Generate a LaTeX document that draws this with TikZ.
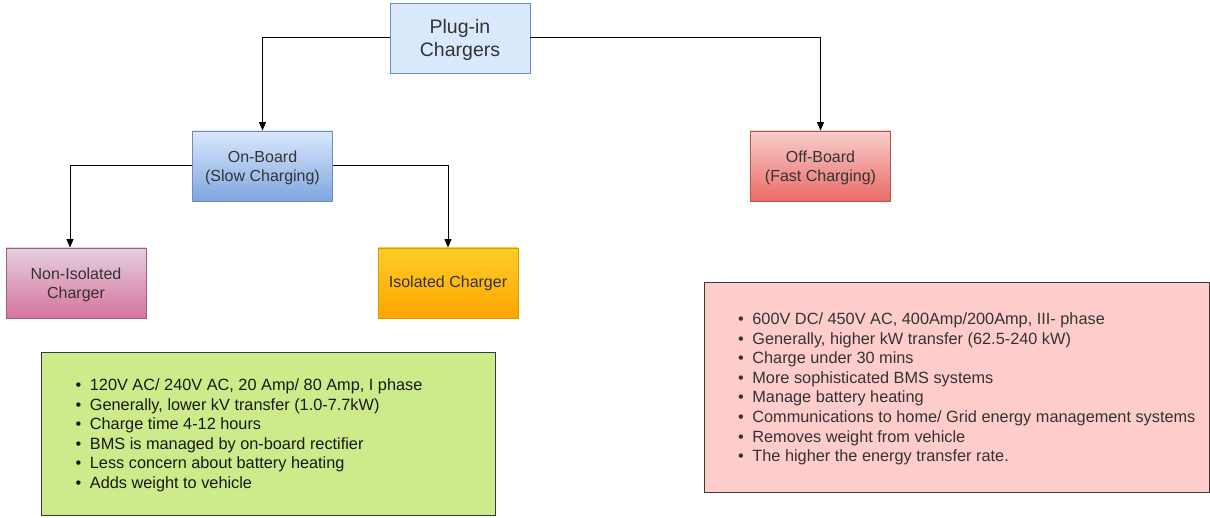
\documentclass[tikz,border=0pt]{standalone}
\usepackage{fontspec}
\setmainfont{Liberation Sans}
\usetikzlibrary{arrows.meta}
\definecolor{txt}{HTML}{333333}
\definecolor{blueF}{HTML}{DAE8FC}
\definecolor{blueD}{HTML}{7EA6E0}
\definecolor{blueB}{HTML}{6C8EBF}
\definecolor{redT}{HTML}{F8CECC}
\definecolor{redD}{HTML}{EA6B66}
\definecolor{redB}{HTML}{B85450}
\definecolor{pinkT}{HTML}{E6D0DE}
\definecolor{pinkD}{HTML}{D5739D}
\definecolor{pinkB}{HTML}{996185}
\definecolor{orT}{HTML}{FFCD28}
\definecolor{orD}{HTML}{FFA500}
\definecolor{orB}{HTML}{D79B00}
\definecolor{greenF}{HTML}{CDEB8B}
\definecolor{roseF}{HTML}{FFCCCC}
\definecolor{noteB}{HTML}{36393D}
\tikzset{
  box/.style={rectangle, draw, line width=0.9pt, minimum width=140pt, minimum height=70pt,
    inner sep=0pt, align=center, text=txt, font=\fontsize{16}{19}\selectfont},
  note/.style={rectangle, draw=noteB, line width=0.9pt, inner sep=0pt},
  link/.style={draw=black, line width=1pt, -{Triangle[length=8.5pt,width=7pt]}},
  list/.style={anchor=north west, inner sep=0pt, font=\fontsize{16.3}{19.6}\selectfont},
}
\newcommand{\itm}{\textbullet}
\begin{document}
\begin{tikzpicture}[x=1pt,y=-1pt]
\useasboundingbox (0,0) rectangle (1210,518);

% tree nodes
\node[box, draw=blueB, fill=blueF] (pl) at (460,38) {};
\node[text=txt, align=center, inner sep=0pt, font=\fontsize{19.5}{23}\selectfont] (plt) at (460,40) {Plug-in\\Chargers};
\node[box, draw=blueB, top color=blueF, bottom color=blueD] (ob) at (262.5,166) {};
\node[box, draw=redB, top color=redT, bottom color=redD] (fb) at (820.5,166) {};
\node[box, draw=pinkB, top color=pinkT, bottom color=pinkD] (ni) at (76,283) {};
\node[box, draw=orB, top color=orT, bottom color=orD] (ic) at (448,283) {Isolated Charger};
\node[box, draw=none, minimum width=0pt, minimum height=0pt] (obt) at ([yshift=-1.5pt]ob.center) {On-Board\\(Slow Charging)};
\node[box, draw=none, minimum width=0pt, minimum height=0pt] (fbt) at ([yshift=-1.5pt]fb.center) {Off-Board\\(Fast Charging)};
\node[box, draw=none, minimum width=0pt, minimum height=0pt] (nit) at ([yshift=-1.5pt]ni.center) {Non-Isolated\\Charger};

% connectors
\draw[link] (pl.west) -| (ob.north);
\draw[link] (pl.east) -| (fb.north);
\draw[link] (ob.west) -| ([xshift=-6pt]ni.north);
\draw[link] (ob.east) -| (ic.north);

% feature notes
\node[note, fill=greenF, minimum width=454pt, minimum height=163pt] (gn) at (268,433.5) {};
\node[list, text=black!90] (gt) at (75.5,376.5) {%
\begin{tabular}{@{}l@{\hspace{8.5pt}}l@{}}
\itm & 120V AC/ 240V AC, 20 Amp/ 80 Amp, I phase\\
\itm & Generally, lower kV transfer (1.0-7.7kW)\\
\itm & Charge time 4-12 hours\\
\itm & BMS is managed by on-board rectifier\\
\itm & Less concern about battery heating\\
\itm & Adds weight to vehicle
\end{tabular}};

\node[note, fill=roseF, minimum width=505pt, minimum height=210pt] (rn) at (956.5,387) {};
\node[list, text=txt] (rt) at (738,310.5) {%
\begin{tabular}{@{}l@{\hspace{8.5pt}}l@{}}
\itm & 600V DC/ 450V AC, 400Amp/200Amp, III- phase\\
\itm & Generally, higher kW transfer (62.5-240 kW)\\
\itm & Charge under 30 mins\\
\itm & More sophisticated BMS systems\\
\itm & Manage battery heating\\
\itm & Communications to home/ Grid energy management systems\\
\itm & Removes weight from vehicle\\
\itm & The higher the energy transfer rate.
\end{tabular}};
\end{tikzpicture}
\end{document}
